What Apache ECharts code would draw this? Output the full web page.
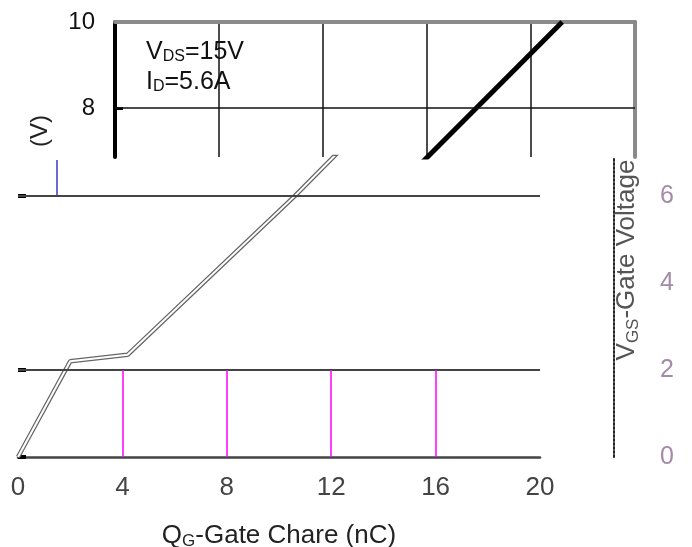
<!DOCTYPE html>
<html>
<head>
<meta charset="utf-8">
<script src="https://cdn.jsdelivr.net/npm/echarts@6/dist/echarts.min.js"></script>
<style>
  html, body { margin: 0; padding: 0; background: #fff; }
  #chart { width: 692px; height: 547px; }
</style>
</head>
<body>
<div id="chart"></div>
<script>
// gate charge curve
const gateCharge = [0, 2.0, 4.2, 10.6, 17.2];
const gateVoltage = [0, 2.2, 2.35, 6.0, 10.0];
const topTickValues = [8, 10];
const bottomTickValues = [0, 2, 4, 6];
const bottomGridValues = [2, 6];
const pinkLineCharges = [4, 8, 12, 16];

const curve = gateCharge.map((q, i) => [q, gateVoltage[i]]);
const font = "Liberation Sans, Arial, sans-serif";

const chart = echarts.init(document.getElementById("chart"));
chart.setOption({
  animation: false,
  textStyle: { fontFamily: font },
  grid: [
    { left: 115, top: 22, width: 520, height: 135, outerBoundsMode: "none" },
    { left: 18, top: 157, width: 522, height: 300, outerBoundsMode: "none" },
  ],
  xAxis: [
    {
      gridIndex: 0,
      type: "value",
      position: "top",
      min: 0,
      max: 20,
      interval: 4,
      axisLine: { show: true, onZero: false, lineStyle: { color: "#8a8a8a", width: 4 } },
      axisTick: { show: false },
      axisLabel: { show: false },
      splitLine: { show: true, lineStyle: { color: "#111", width: 1.5 } },
    },
    {
      gridIndex: 1,
      type: "value",
      min: 0,
      max: 20,
      interval: 4,
      axisLine: { show: true, onZero: false, lineStyle: { color: "#444", width: 2.5 } },
      axisTick: { show: false },
      axisLabel: { color: "#444", fontSize: 26, margin: 18 },
      splitLine: { show: false },
      name: "{q|Q}{s|G}{q|-Gate Chare (nC)}",
      nameLocation: "middle",
      nameGap: 64,
      nameTextStyle: {
        rich: {
          q: { fontSize: 26, color: "#222", fontFamily: font },
          s: { fontSize: 17, color: "#222", fontFamily: font, padding: [12, 0, 0, 0] },
        },
      },
    },
  ],
  yAxis: [
    {
      gridIndex: 0,
      type: "value",
      min: 6.86,
      max: 10,
      axisLine: { show: true, onZero: false, lineStyle: { color: "#000", width: 4 } },
      axisTick: {
        show: true,
        inside: true,
        length: 8,
        customValues: [8],
        lineStyle: { color: "#000", width: 3 },
      },
      axisLabel: { customValues: topTickValues, color: "#111", fontSize: 24, margin: 20 },
      splitLine: { show: false },
    },
    {
      gridIndex: 0,
      type: "value",
      position: "right",
      min: 6.86,
      max: 10,
      axisLine: { show: true, onZero: false, lineStyle: { color: "#8a8a8a", width: 4 } },
      axisTick: { show: false },
      axisLabel: { show: false },
      splitLine: { show: false },
    },
    {
      gridIndex: 1,
      type: "value",
      position: "right",
      offset: 74,
      min: 0,
      max: 6.9,
      axisLine: { show: true, onZero: false, lineStyle: { color: "#222", width: 2, type: "dotted" } },
      axisTick: { show: false },
      axisLabel: { customValues: bottomTickValues, color: "#a48aa8", fontSize: 25, margin: 46 },
      splitLine: { show: false },
    },
    {
      gridIndex: 1,
      type: "value",
      position: "left",
      min: 0,
      max: 6.9,
      axisLine: { show: false, onZero: false },
      axisTick: {
        show: true,
        inside: true,
        length: 8,
        customValues: [0, 2, 6],
        lineStyle: { color: "#000", width: 4 },
      },
      axisLabel: { show: false },
      splitLine: { show: false },
    },
  ],
  graphic: [
    {
      type: "text",
      left: 146,
      top: 39,
      style: {
        text: "{a|V}{s|DS}{a|=15V}\n{a|I}{s|D}{a|=5.6A}",
        rich: {
          a: { fontSize: 25, fill: "#111", fontFamily: font, lineHeight: 30 },
          s: { fontSize: 16, fill: "#111", fontFamily: font, lineHeight: 30, padding: [10, 0, 0, 0] },
        },
      },
    },
    {
      type: "text",
      x: 40,
      y: 131,
      rotation: Math.PI / 2,
      style: {
        text: "(V)",
        fontSize: 24,
        fill: "#222",
        fontFamily: font,
        align: "center",
        verticalAlign: "middle",
      },
    },
    {
      type: "text",
      x: 627,
      y: 260,
      rotation: Math.PI / 2,
      style: {
        text: "{a|V}{s|GS}{a|-Gate Voltage}",
        align: "center",
        verticalAlign: "middle",
        rich: {
          a: { fontSize: 26, fill: "#555", fontFamily: font },
          s: { fontSize: 17, fill: "#555", fontFamily: font, padding: [12, 0, 0, 0] },
        },
      },
    },
    {
      type: "line",
      shape: { x1: 57, y1: 160, x2: 57, y2: 195 },
      style: { stroke: "#3a3ac0", lineWidth: 1.5 },
    },
  ],
  series: [
    {
      type: "line",
      xAxisIndex: 0,
      yAxisIndex: 0,
      data: curve,
      clip: true,
      symbol: "none",
      lineStyle: { color: "#000", width: 5 },
      markLine: {
        silent: true,
        symbol: "none",
        label: { show: false },
        lineStyle: { color: "#111", width: 1.5, type: "solid" },
        data: topTickValues.filter((v) => v < 10).map((v) => ({ yAxis: v })),
      },
    },
    {
      type: "line",
      xAxisIndex: 1,
      yAxisIndex: 2,
      data: curve,
      clip: true,
      symbol: "none",
      lineStyle: { color: "#666", width: 4.5 },
      markLine: {
        silent: true,
        symbol: "none",
        label: { show: false },
        data: [
          ...bottomGridValues.map((v) => ({
            yAxis: v,
            lineStyle: { color: "#444", width: 2, type: "solid" },
          })),
          ...pinkLineCharges.map((q) => [
            { coord: [q, 0], lineStyle: { color: "#ff00ff", width: 1.5, type: "solid" } },
            { coord: [q, bottomGridValues[0]] },
          ]),
        ],
      },
    },
    {
      type: "line",
      xAxisIndex: 1,
      yAxisIndex: 2,
      data: curve,
      clip: true,
      symbol: "none",
      lineStyle: { color: "#fff", width: 2 },
    },
  ],
});
</script>
</body>
</html>
